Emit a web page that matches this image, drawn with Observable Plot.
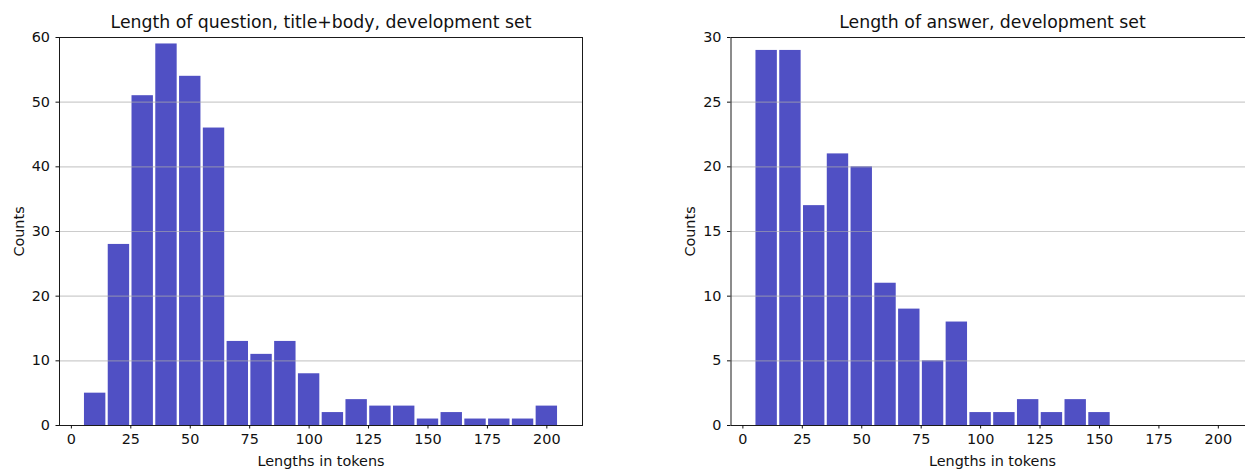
<!DOCTYPE html>
<html>
<head>
<meta charset="utf-8">
<script src="https://cdn.jsdelivr.net/npm/d3@7"></script>
<script src="https://cdn.jsdelivr.net/npm/@observablehq/plot@0.6"></script>
<style>
  html, body { margin: 0; padding: 0; background: #fff; overflow: hidden; width: 1245px; height: 469px; }
  #wrap { position: relative; width: 1245px; height: 469px; overflow: hidden; }
  #left { position: absolute; left: 0; top: 0; width: 600px; height: 469px; }
  #right { position: absolute; left: 620px; top: 0; width: 640px; height: 469px; }
  #wrap svg { max-width: none !important; }
</style>
</head>
<body>
<div id="wrap"><div id="left"></div><div id="right"></div></div>
<script>
// Histogram bins (token lengths): start of each bin, width 10
const binStarts = [5, 15, 25, 35, 45, 55, 65, 75, 85, 95, 105, 115, 125, 135, 145, 155, 165, 175, 185, 195];
const binWidth = 10;
const questionCounts = [5, 28, 51, 59, 54, 46, 13, 11, 13, 8, 2, 4, 3, 3, 1, 2, 1, 1, 1, 3];
const answerCounts = [29, 29, 17, 21, 20, 11, 9, 5, 8, 1, 1, 2, 1, 2, 1, 0, 0, 0, 0, 0];
const xTicks = [0, 25, 50, 75, 100, 125, 150, 175, 200];
const questionYTicks = [0, 10, 20, 30, 40, 50, 60];
const answerYTicks = [0, 5, 10, 15, 20, 25, 30];
const questionTitle = "Length of question, title+body, development set";
const answerTitle = "Length of answer, development set";
const xLabel = "Lengths in tokens";
const yLabel = "Counts";

const barColor = "#5050c4";

function makeRows(counts) {
  return binStarts.map((s, i) => ({ x1: s + binWidth * 0.05, x2: s + binWidth * 0.95, count: counts[i] }));
}

function hist({ counts, yTicks, yMax, title, width, marginLeft, marginRight }) {
  return Plot.plot({
    width,
    height: 469,
    marginLeft,
    marginRight,
    marginTop: 37,
    marginBottom: 44,
    style: { fontFamily: "DejaVu Sans, sans-serif", fontSize: "14.4px", color: "#111", background: "transparent", overflow: "visible" },
    x: { domain: [-5, 215] },
    y: { domain: [0, yMax] },
    marks: [
      Plot.rectY(makeRows(counts), { x1: "x1", x2: "x2", y1: 0, y2: "count", fill: barColor }),
      Plot.ruleY(yTicks.filter(t => t > 0), { stroke: "#aaaaaa", strokeOpacity: 0.6, strokeWidth: 1.1 }),
      Plot.frame({ stroke: "#1a1a1a", strokeWidth: 1 }),
      Plot.axisX({ ticks: xTicks, tickSize: 3.5, tickPadding: 5, label: xLabel, labelAnchor: "center", labelArrow: "none", labelOffset: 40, fontSize: 14.4 }),
      Plot.axisY({ ticks: yTicks, tickSize: 3.5, tickPadding: 6, label: yLabel, labelAnchor: "center", labelArrow: "none", labelOffset: 46, fontSize: 14.4 }),
      Plot.text([title], { frameAnchor: "top", dy: -15, lineAnchor: "middle", fontSize: 17.3, fill: "#111" })
    ]
  });
}

document.getElementById("left").appendChild(hist({
  counts: questionCounts, yTicks: questionYTicks, yMax: 60, title: questionTitle,
  width: 600, marginLeft: 59, marginRight: 18
}));
document.getElementById("right").appendChild(hist({
  counts: answerCounts, yTicks: answerYTicks, yMax: 30, title: answerTitle,
  width: 640, marginLeft: 110.5, marginRight: 6.5
}));
</script>
</body>
</html>
